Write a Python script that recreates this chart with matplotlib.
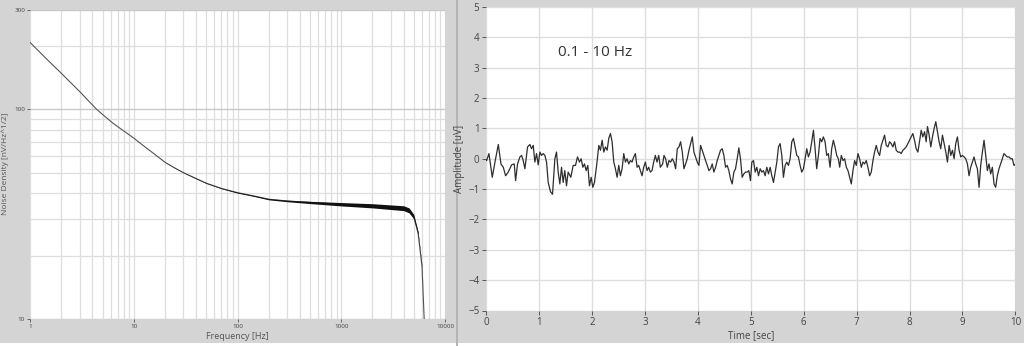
import matplotlib
matplotlib.use("Agg")
import matplotlib.pyplot as plt
from matplotlib.patches import Rectangle
from matplotlib.ticker import FixedLocator, NullFormatter, LogLocator

# ---------------- data: noise density spectrum ----------------
freq_hz = [1, 1.5, 2, 3, 4.4, 5.5, 6.3, 8, 10, 12, 15, 20, 25, 30, 40, 50, 70,
           100, 150, 200, 300, 500, 1000, 2000, 4000, 4500, 5000, 5500, 6000, 6300]
density_nv = [209, 171, 149, 122, 100, 91, 86, 79, 73, 68, 62.5, 56, 52.5, 50,
              46.8, 44.5, 42, 40.1, 38.5, 37.3, 36.6, 36.0, 35.3, 34.7, 33.8,
              33.0, 30.8, 25.7, 17.8, 10]
spread_nv = [0, 0, 0, 0, 0, 0, 0, 0, 0, 0, 0, 0.05, 0.1, 0.1, 0.15, 0.15, 0.15,
             0.2, 0.2, 0.25, 0.3, 0.45, 0.65, 0.8, 0.9, 0.9, 0.75, 0.5, 0.2, 0]

# ---------------- data: time trace 0.1 - 10 Hz ----------------
time_s = [0.0, 0.006, 0.05, 0.113, 0.164, 0.227, 0.277, 0.321, 0.365, 0.415, 0.478,
          0.528, 0.554, 0.591, 0.635, 0.667, 0.698, 0.73, 0.78, 0.824, 0.855,
          0.887, 0.918, 0.95, 0.981, 1.013, 1.044, 1.076, 1.107, 1.139, 1.17,
          1.214, 1.252, 1.296, 1.327, 1.359, 1.39, 1.422, 1.453, 1.484, 1.516,
          1.547, 1.598, 1.642, 1.686, 1.724, 1.762, 1.793, 1.825, 1.856, 1.888,
          1.919, 1.95, 1.982, 2.013, 2.045, 2.089, 2.127, 2.158, 2.19, 2.221,
          2.252, 2.284, 2.315, 2.347, 2.378, 2.41, 2.441, 2.473, 2.504, 2.535,
          2.567, 2.598, 2.63, 2.661, 2.693, 2.724, 2.755, 2.787, 2.818, 2.85,
          2.881, 2.913, 2.944, 2.976, 3.007, 3.039, 3.07, 3.101, 3.133, 3.164,
          3.196, 3.227, 3.259, 3.29, 3.334, 3.359, 3.39, 3.422, 3.453, 3.485,
          3.516, 3.548, 3.579, 3.61, 3.642, 3.673, 3.705, 3.736, 3.768, 3.799,
          3.831, 3.862, 3.894, 3.925, 3.956, 3.988, 4.019, 4.051, 4.082, 4.114,
          4.145, 4.177, 4.208, 4.24, 4.271, 4.302, 4.334, 4.365, 4.397, 4.428,
          4.46, 4.491, 4.523, 4.554, 4.585, 4.617, 4.648, 4.68, 4.711, 4.743,
          4.774, 4.805, 4.837, 4.868, 4.9, 4.931, 4.963, 4.994, 5.02, 5.051,
          5.083, 5.114, 5.146, 5.177, 5.209, 5.24, 5.271, 5.303, 5.334, 5.366,
          5.397, 5.429, 5.46, 5.492, 5.523, 5.554, 5.586, 5.617, 5.649, 5.68,
          5.712, 5.743, 5.775, 5.806, 5.838, 5.869, 5.9, 5.932, 5.963, 5.995,
          6.026, 6.058, 6.089, 6.121, 6.152, 6.184, 6.215, 6.246, 6.278, 6.309,
          6.341, 6.372, 6.404, 6.435, 6.466, 6.498, 6.529, 6.561, 6.592, 6.624,
          6.655, 6.68, 6.711, 6.743, 6.774, 6.806, 6.837, 6.869, 6.9, 6.931,
          6.963, 6.994, 7.026, 7.057, 7.089, 7.12, 7.152, 7.183, 7.214, 7.246,
          7.277, 7.309, 7.34, 7.372, 7.403, 7.435, 7.466, 7.498, 7.529, 7.56,
          7.592, 7.623, 7.655, 7.686, 7.718, 7.749, 7.781, 7.812, 7.843, 7.875,
          7.906, 7.938, 7.969, 8.0, 8.032, 8.063, 8.095, 8.126, 8.158, 8.189,
          8.221, 8.252, 8.284, 8.315, 8.34, 8.371, 8.403, 8.434, 8.466, 8.497,
          8.529, 8.56, 8.591, 8.623, 8.654, 8.686, 8.717, 8.749, 8.78, 8.812,
          8.843, 8.874, 8.906, 8.937, 8.969, 9.0, 9.032, 9.063, 9.095, 9.126,
          9.157, 9.189, 9.22, 9.252, 9.283, 9.315, 9.346, 9.378, 9.409, 9.44,
          9.472, 9.503, 9.535, 9.566, 9.598, 9.629, 9.66, 9.692, 9.723, 9.755,
          9.786, 9.818, 9.849, 9.881, 9.912, 9.943, 9.975, 10.0]
amp_uv = [-0.05, -0.06, 0.17, -0.61, -0.11, 0.47, -0.17, -0.28, -0.56, -0.44, -0.2,
          -0.17, -0.72, -0.17, 0.06, 0.11, -0.06, -0.33, 0.39, 0.47, 0.33,
          0.44, -0.11, 0.17, -0.2, 0.22, 0.11, 0.17, 0.11, -0.11, -0.78,
          -1.09, -1.17, 0.0, 0.22, -0.44, -0.83, -0.28, -0.78, -0.39, -0.89,
          -0.44, -0.61, -0.22, -0.22, 0.06, -0.11, 0.0, -0.28, -0.17, -0.39,
          -0.22, -0.89, -0.61, -0.94, -0.78, -0.17, 0.44, 0.28, 0.61, 0.22,
          0.39, 0.28, 0.67, 0.83, 0.56, -0.11, -0.33, -0.61, -0.22, -0.56,
          -0.33, 0.17, -0.11, 0.0, -0.17, -0.06, -0.11, 0.06, 0.17, -0.28,
          -0.22, -0.39, -0.56, -0.28, -0.11, -0.39, -0.28, -0.44, -0.39, -0.11,
          0.11, -0.11, 0.11, -0.28, -0.17, 0.11, 0.0, -0.28, -0.06, -0.11,
          0.0, -0.11, -0.33, 0.33, 0.39, 0.56, 0.22, -0.33, -0.17, 0.0,
          0.28, 0.5, 0.72, 0.22, 0.06, -0.11, -0.22, 0.44, 0.28, 0.11,
          -0.06, -0.22, -0.39, -0.33, -0.17, -0.44, -0.28, -0.06, 0.11, 0.28,
          0.33, 0.11, -0.28, -0.22, -0.39, -0.67, -0.83, -0.44, -0.33, 0.0,
          0.36, 0.0, -0.61, -0.5, -0.44, -0.44, -0.39, -0.72, -0.11, -0.06,
          -0.44, -0.28, -0.56, -0.33, -0.44, -0.39, -0.56, -0.28, -0.5, -0.28,
          -0.56, -0.78, -0.44, -0.11, 0.39, 0.5, 0.11, -0.61, -0.22, -0.11,
          -0.22, 0.0, 0.56, 0.67, 0.39, 0.11, 0.06, -0.22, -0.44, -0.33,
          0.0, 0.33, 0.06, 0.22, 0.56, 0.94, 0.33, -0.33, 0.11, 0.67,
          0.56, 0.72, 0.56, 0.11, 0.17, -0.28, 0.33, 0.61, 0.39, 0.11,
          0.0, -0.28, 0.11, -0.06, 0.0, -0.28, -0.39, -0.61, -0.83, -0.39,
          -0.06, -0.22, 0.17, 0.0, -0.28, -0.11, -0.17, -0.06, -0.28, -0.56,
          -0.44, -0.06, 0.22, 0.44, 0.22, 0.11, 0.44, 0.61, 0.78, 0.44,
          0.39, 0.56, 0.5, 0.39, 0.56, 0.28, 0.22, 0.22, 0.17, 0.28,
          0.33, 0.39, 0.5, 0.61, 0.72, 0.83, 0.61, 0.33, 0.22, 0.56,
          0.94, 0.72, 0.89, 0.56, 1.06, 0.78, 0.39, 0.72, 1.0, 1.22,
          0.89, 0.56, 0.33, 0.78, 0.5, 0.22, -0.11, 0.44, 0.11, 0.28,
          0.0, 0.5, 0.72, 0.28, 0.06, 0.11, 0.06, 0.0, -0.17, -0.56,
          -0.28, -0.11, 0.06, -0.17, -0.33, -0.94, -0.22, 0.22, 0.61, 0.11,
          -0.39, -0.17, -0.5, -0.28, -0.83, -0.94, -0.56, -0.33, -0.17, 0.0,
          0.17, 0.11, 0.06, 0.06, 0.0, 0.0, -0.22, -0.18]

freq_ticks = [1, 10, 100, 1000, 10000]
dens_ticks = [10, 100, 300]
time_ticks = list(range(0, 11))
amp_ticks = list(range(-5, 6))

# ---------------- figure ----------------
plt.rcParams['font.family'] = ['Open Sans', 'DejaVu Sans']
W, H = 1024, 346
fig = plt.figure(figsize=(W / 100, H / 100), dpi=100, facecolor='white')

panel_gray = '#d4d4d4'
fig.patches.append(Rectangle((0, 3 / H), 456 / W, 1 - 3 / H, transform=fig.transFigure,
                             facecolor=panel_gray, edgecolor='none', zorder=-10))
fig.patches.append(Rectangle((458 / W, 3 / H), 1 - 458 / W, 1 - 3 / H, transform=fig.transFigure,
                             facecolor=panel_gray, edgecolor='none', zorder=-10))
fig.patches.append(Rectangle((456 / W, 0), 2 / W, 1, transform=fig.transFigure,
                             facecolor='#b4b4b4', edgecolor='none', zorder=-10))

grid_c = '#dedede'
tick_c = '#555555'
text_c = '#444444'

# ---- left: noise density ----
ax1 = fig.add_axes([30 / W, (H - 319) / H, 415 / W, 309.5 / H])
ax1.set_facecolor('white')
ax1.set_xscale('log')
ax1.set_yscale('log')
ax1.set_xlim(freq_ticks[0], freq_ticks[-1])
ax1.set_ylim(dens_ticks[0], dens_ticks[-1])
ax1.xaxis.set_major_locator(FixedLocator(freq_ticks))
ax1.yaxis.set_major_locator(FixedLocator(dens_ticks))
ax1.set_xticklabels([str(v) for v in freq_ticks])
ax1.set_yticklabels([str(v) for v in dens_ticks])
ax1.xaxis.set_minor_locator(LogLocator(base=10, subs=range(2, 10), numticks=20))
ax1.yaxis.set_minor_locator(LogLocator(base=10, subs=range(2, 10), numticks=20))
ax1.xaxis.set_minor_formatter(NullFormatter())
ax1.yaxis.set_minor_formatter(NullFormatter())
ax1.grid(True, which='both', color=grid_c, linewidth=0.9)
ax1.yaxis.grid(True, which='major', color='#c8c8c8', linewidth=1.0)
ax1.set_axisbelow(True)
for s in ax1.spines.values():
    s.set_visible(False)
ax1.tick_params(which='major', length=2.5, width=0.6, color=tick_c, labelsize=4.5,
                labelcolor=text_c, pad=1)
ax1.tick_params(which='minor', length=0)
lo = [d - s for d, s in zip(density_nv, spread_nv)]
hi = [d + s for d, s in zip(density_nv, spread_nv)]
ax1.plot(freq_hz, density_nv, color='#555555', linewidth=0.8, zorder=2)
ax1.fill_between(freq_hz, lo, hi, color='#111111', linewidth=0, zorder=3)
ax1.set_xlabel('Frequency [Hz]', fontsize=6.5, color='#555555', labelpad=2)
ax1.set_ylabel('Noise Density [nV/Hz^1/2]', fontsize=6, color='#555555', labelpad=4)

# ---- right: time trace ----
ax2 = fig.add_axes([486.3 / W, (H - 310.5) / H, 529 / W, 303.5 / H])
ax2.set_facecolor('white')
ax2.set_xlim(time_ticks[0], time_ticks[-1])
ax2.set_ylim(amp_ticks[0], amp_ticks[-1])
ax2.set_xticks(time_ticks)
ax2.set_yticks(amp_ticks)
ax2.grid(True, color=grid_c, linewidth=1.0)
ax2.set_axisbelow(True)
for s in ax2.spines.values():
    s.set_visible(False)
ax2.tick_params(length=3, width=0.7, color=tick_c, labelsize=7, labelcolor=text_c, pad=2)
ax2.plot(time_s, amp_uv, color='#2e2e2e', linewidth=0.9)
ax2.set_xlabel('Time [sec]', fontsize=7, color=text_c, labelpad=1)
ax2.set_ylabel('Amplitude [uV]', fontsize=7, color=text_c, labelpad=2)
ax2.text(1.35, 3.5, '0.1 - 10 Hz', fontsize=11, color='#333333', va='center', ha='left')

fig.savefig('out.png', dpi=100, facecolor=fig.get_facecolor())
